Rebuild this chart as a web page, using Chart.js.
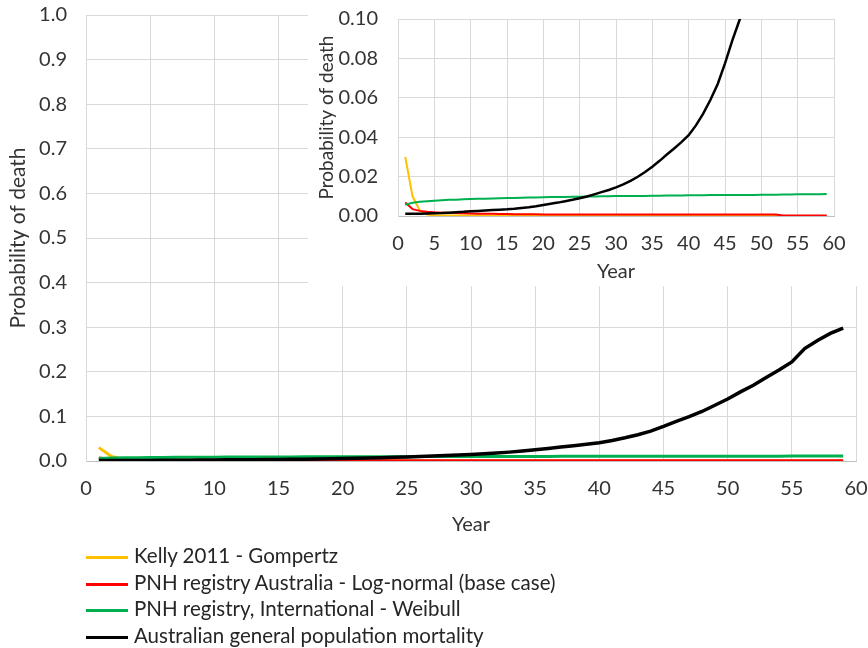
<!DOCTYPE html>
<html lang="en">
<head>
    <meta charset="UTF-8">
    <title>Probability of death</title>
    <script src="https://cdn.jsdelivr.net/npm/chart.js"></script>
    <style>
        body {
            margin: 0;
            background: #fff;
            font-family: Lato, "Open Sans", sans-serif;
        }
        .wrap {
            position: relative;
            width: 868px;
            height: 648px;
        }
        #main-chart {
            position: absolute;
            left: 0;
            top: 0;
        }
        #inset-chart {
            position: absolute;
            left: 308px;
            top: 0;
            background: #fff;
        }
        .legend {
            position: absolute;
            left: 86px;
            top: 542px;
            font-size: 20.5px;
            color: #262626;
        }
        .legend div {
            height: 26.5px;
            line-height: 26.5px;
            white-space: nowrap;
        }
        .legend span.swatch {
            display: inline-block;
            width: 42px;
            height: 3px;
            margin-right: 6px;
            vertical-align: middle;
        }
    </style>
</head>
<body>
    <div class="wrap">
        <canvas id="main-chart" width="868" height="548"></canvas>
        <canvas id="inset-chart" width="560" height="286"></canvas>
        <div class="legend" id="legend"></div>
    </div>

    <script>
        const years = [1, 2, 3, 4, 5, 6, 7, 8, 9, 10, 11, 12, 13, 14, 15, 16, 17, 18, 19, 20,
            21, 22, 23, 24, 25, 26, 27, 28, 29, 30, 31, 32, 33, 34, 35, 36, 37, 38, 39, 40,
            41, 42, 43, 44, 45, 46, 47, 48, 49, 50, 51, 52, 53, 54, 55, 56, 57, 58, 59];

        // Kelly 2011 - Gompertz
        const kelly = [0.030, 0.010, 0.0028, 0.0008, 0.0003, 0.0002, 0.0002, 0.0002, 0.0002, 0.0002,
            0.0002, 0.0002, 0.0002, 0.0002, 0.0002, 0.0002, 0.0002, 0.0002, 0.0002, 0.0002,
            0.0001, 0.0001, 0.0001, 0.0001, 0.0001, 0.0001, 0.0001, 0.0001, 0.0001, 0.0001,
            0.0001, 0.0001, 0.0001, 0.0001, 0.0001, 0.0001, 0.0001, 0.0001, 0.0001, 0.0001,
            0.0001, 0.0001, 0.0001, 0.0001, 0.0001, 0.0001, 0.0001, 0.0001, 0.0001, 0.0001,
            0.0001, 0.0001, 0, 0, 0, 0, 0, 0, 0];

        // PNH registry Australia - Log-normal
        const pnhAus = [0.0068, 0.0035, 0.0026, 0.0022, 0.0019, 0.0017, 0.0016, 0.0015, 0.0014, 0.0013,
            0.0012, 0.0011, 0.0011, 0.0010, 0.0010, 0.0009, 0.0009, 0.0009, 0.0009, 0.0008,
            0.0008, 0.0008, 0.0008, 0.0008, 0.0007, 0.0007, 0.0007, 0.0007, 0.0007, 0.0007,
            0.0007, 0.0007, 0.0007, 0.0007, 0.0007, 0.0007, 0.0007, 0.0007, 0.0007, 0.0007,
            0.0007, 0.0007, 0.0007, 0.0007, 0.0007, 0.0007, 0.0007, 0.0007, 0.0007, 0.0007,
            0.0007, 0.0007, 0.0003, 0.0003, 0.0003, 0.0003, 0.0003, 0.0003, 0.0003];

        // PNH registry, International - Weibull
        const pnhIntl = [0.0057, 0.0067, 0.0072, 0.0075, 0.0078, 0.0080, 0.0082, 0.0083, 0.0085, 0.0086,
            0.0087, 0.0088, 0.0089, 0.0090, 0.0091, 0.0092, 0.0093, 0.0094, 0.0094, 0.0095,
            0.0096, 0.0096, 0.0097, 0.0098, 0.0098, 0.0099, 0.0099, 0.0100, 0.0100, 0.0101,
            0.0101, 0.0102, 0.0102, 0.0102, 0.0103, 0.0103, 0.0104, 0.0104, 0.0104, 0.0105,
            0.0105, 0.0105, 0.0106, 0.0106, 0.0106, 0.0107, 0.0107, 0.0107, 0.0107, 0.0108,
            0.0108, 0.0108, 0.0109, 0.0109, 0.0110, 0.0110, 0.0111, 0.0111, 0.0112];

        // Australian general population mortality
        const general = [0.0012, 0.0012, 0.0012, 0.0013, 0.0014, 0.0015, 0.0017, 0.0019, 0.0021, 0.0024,
            0.0026, 0.0028, 0.0030, 0.0032, 0.0034, 0.0037, 0.0041, 0.0045, 0.0050, 0.0056,
            0.0062, 0.0068, 0.0075, 0.0082, 0.0090, 0.0099, 0.0110, 0.0121, 0.0132, 0.0145,
            0.0160, 0.0178, 0.0199, 0.0223, 0.0250, 0.0280, 0.0312, 0.0343, 0.0375, 0.0410,
            0.0460, 0.0520, 0.0590, 0.0670, 0.0775, 0.0890, 0.0995, 0.111, 0.125, 0.139,
            0.155, 0.170, 0.187, 0.204, 0.222, 0.252, 0.270, 0.286, 0.298];

        const seriesNames = [
            'Kelly 2011 - Gompertz',
            'PNH registry Australia - Log-normal (base case)',
            'PNH registry, International - Weibull',
            'Australian general population mortality'
        ];
        const seriesColors = ['#FFC000', '#FF0000', '#00B050', '#000000'];
        const seriesValues = [kelly, pnhAus, pnhIntl, general];

        const fontName = 'Lato, "Open Sans", sans-serif';
        const textColor = '#333333';
        const gridColor = '#d9d9d9';

        function makeDatasets(width) {
            return seriesValues.map((vals, i) => ({
                label: seriesNames[i],
                data: years.map((y, k) => ({ x: y, y: vals[k] })),
                borderColor: seriesColors[i],
                backgroundColor: seriesColors[i],
                borderWidth: i === 3 ? width + 0.5 : width,
                pointRadius: 0,
                tension: 0,
                fill: false,
                order: 4 - i   // later series on top, like the original
            }));
        }

        // chart.js adds room for the end labels on top of layout.padding, drop it
        const noEdgeRoomX = s => { s.paddingLeft = 0; s.paddingRight = 0; };
        const noEdgeRoomY = s => { s.paddingTop = 0; s.paddingBottom = 0; };

        // main chart
        new Chart(document.getElementById('main-chart'), {
            type: 'line',
            data: { datasets: makeDatasets(3) },
            options: {
                responsive: false,
                animation: false,
                layout: { padding: { left: 0, top: 15, right: 12, bottom: 0 } },
                plugins: { legend: { display: false }, tooltip: { enabled: false } },
                scales: {
                    x: {
                        type: 'linear',
                        min: 0,
                        max: 60,
                        afterFit: s => { s.height = 87; noEdgeRoomX(s); },
                        grid: { color: gridColor, drawTicks: false },
                        border: { color: '#bfbfbf' },
                        ticks: {
                            stepSize: 5,
                            padding: 16,
                            maxRotation: 0,
                            color: textColor,
                            font: { family: fontName, size: 20 }
                        },
                        title: {
                            display: true,
                            text: 'Year',
                            color: textColor,
                            padding: { top: 0, bottom: 11 },
                            font: { family: fontName, size: 20 }
                        }
                    },
                    y: {
                        min: 0,
                        max: 1,
                        afterFit: s => { s.width = 86; noEdgeRoomY(s); },
                        grid: { color: gridColor, drawTicks: false },
                        border: { color: gridColor },
                        ticks: {
                            stepSize: 0.1,
                            padding: 19,
                            color: textColor,
                            font: { family: fontName, size: 20 },
                            callback: v => v.toFixed(1)
                        },
                        title: {
                            display: true,
                            text: 'Probability of death',
                            color: textColor,
                            padding: { top: 6, bottom: 0 },
                            font: { family: fontName, size: 21 }
                        }
                    }
                }
            }
        });

        // inset, zoomed to 0 - 0.10
        new Chart(document.getElementById('inset-chart'), {
            type: 'line',
            data: { datasets: makeDatasets(2) },
            options: {
                responsive: false,
                animation: false,
                layout: { padding: { left: 0, top: 19, right: 34, bottom: 0 } },
                plugins: { legend: { display: false }, tooltip: { enabled: false } },
                scales: {
                    x: {
                        type: 'linear',
                        min: 0,
                        max: 60,
                        afterFit: s => { s.height = 70; noEdgeRoomX(s); },
                        grid: { color: gridColor, drawTicks: false },
                        border: { color: '#bfbfbf' },
                        ticks: {
                            stepSize: 5,
                            padding: 16,
                            maxRotation: 0,
                            color: textColor,
                            font: { family: fontName, size: 20 }
                        },
                        title: {
                            display: true,
                            text: 'Year',
                            color: textColor,
                            padding: { top: 0, bottom: 2 },
                            font: { family: fontName, size: 20 }
                        }
                    },
                    y: {
                        min: 0,
                        max: 0.1,
                        afterFit: s => { s.width = 90; noEdgeRoomY(s); },
                        grid: { color: gridColor, drawTicks: false },
                        border: { color: gridColor },
                        ticks: {
                            stepSize: 0.02,
                            padding: 20,
                            color: textColor,
                            font: { family: fontName, size: 20 },
                            callback: v => v.toFixed(2)
                        },
                        title: {
                            display: true,
                            text: 'Probability of death',
                            color: textColor,
                            padding: { top: 7, bottom: 0 },
                            font: { family: fontName, size: 19 }
                        }
                    }
                }
            }
        });

        // legend, one row per series
        const legend = document.getElementById('legend');
        seriesNames.forEach((name, i) => {
            const row = document.createElement('div');
            const sw = document.createElement('span');
            sw.className = 'swatch';
            sw.style.background = seriesColors[i];
            row.appendChild(sw);
            row.appendChild(document.createTextNode(name));
            legend.appendChild(row);
        });
    </script>
</body>
</html>
